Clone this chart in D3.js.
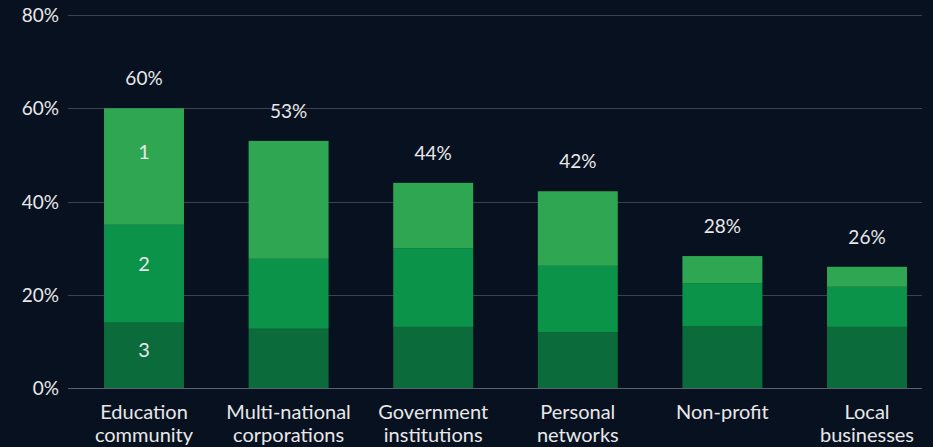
<!DOCTYPE html>
<html>
<head>
<meta charset="utf-8">
<script src="https://cdn.jsdelivr.net/npm/d3@7"></script>
<style>
  body { margin: 0; background: #07111f; }
  svg { display: block; }
  text { font-family: Lato, "Open Sans", sans-serif; fill: #e8e8ea; }
</style>
</head>
<body>
<script>
// Categories and the three stacked segments (bottom = 3, top = 1)
var categories = [
  ["Education", "community"],
  ["Multi-national", "corporations"],
  ["Government", "institutions"],
  ["Personal", "networks"],
  ["Non-profit"],
  ["Local", "businesses"]
];
var seg3 = [14, 12.7, 13.1, 12, 13.3, 13.1];
var seg2 = [21, 15, 16.9, 14.2, 9.2, 8.6];
var seg1 = [25, 25.3, 14, 16, 5.8, 4.3];
var totalLabels = ["60%", "53%", "44%", "42%", "28%", "26%"];
var segLabels = ["3", "2", "1"];
var yTicks = [0, 20, 40, 60, 80];
var colors = ["#0b6b3a", "#0b934a", "#2fa652"];

let w = 933;
let h = 447;

var svg = d3.select("body")
  .append("svg")
  .attr("width", w)
  .attr("height", h);

let yScale = d3.scaleLinear()
  .domain([0, 80])
  .range([388, 15]);

let xScale = d3.scaleBand()
  .domain(d3.range(categories.length))
  .range([71.7, 939.3])
  .paddingInner(0.447)
  .paddingOuter(0.2235);

// Grid lines
svg.append("g")
  .selectAll("line")
  .data(yTicks)
  .enter()
  .append("line")
  .attr("x1", 68)
  .attr("x2", 922)
  .attr("y1", d => Math.round(yScale(d)) + 0.5)
  .attr("y2", d => Math.round(yScale(d)) + 0.5)
  .attr("stroke", d => d === 0 ? "#59616e" : "#3a4352")
  .attr("stroke-width", 1.2);

// Y tick labels
svg.append("g")
  .selectAll("text")
  .data(yTicks)
  .enter()
  .append("text")
  .attr("x", 59)
  .attr("y", d => yScale(d) + 7)
  .attr("text-anchor", "end")
  .attr("font-size", "19px")
  .text(d => d + "%");

// Stacked bars
var rows = categories.map((c, i) => ({ i: i, s3: seg3[i], s2: seg2[i], s1: seg1[i] }));
var stack = d3.stack().keys(["s3", "s2", "s1"])(rows);

svg.append("g")
  .selectAll("g")
  .data(stack)
  .enter()
  .append("g")
  .attr("fill", (d, k) => colors[k])
  .selectAll("rect")
  .data(d => d)
  .enter()
  .append("rect")
  .attr("x", d => xScale(d.data.i))
  .attr("width", xScale.bandwidth())
  .attr("y", d => yScale(d[1]))
  .attr("height", d => yScale(d[0]) - yScale(d[1]));

// Segment numbers on the first bar
svg.append("g")
  .selectAll("text")
  .data(stack)
  .enter()
  .append("text")
  .attr("x", xScale(0) + xScale.bandwidth() / 2)
  .attr("y", (d, k) => (yScale(d[0][0]) + yScale(d[0][1])) / 2 + 2 - k * 5)
  .attr("text-anchor", "middle")
  .attr("font-size", "20px")
  .text((d, k) => segLabels[k]);

// Totals above bars
svg.append("g")
  .selectAll("text")
  .data(rows)
  .enter()
  .append("text")
  .attr("x", d => xScale(d.i) + xScale.bandwidth() / 2)
  .attr("y", d => yScale(d.s1 + d.s2 + d.s3) - 23)
  .attr("text-anchor", "middle")
  .attr("font-size", "19px")
  .text(d => totalLabels[d.i]);

// Category labels
var cat = svg.append("g")
  .selectAll("text")
  .data(categories)
  .enter()
  .append("text")
  .attr("x", (d, i) => xScale(i) + xScale.bandwidth() / 2)
  .attr("y", 419)
  .attr("text-anchor", "middle")
  .attr("font-size", "20px");

cat.selectAll("tspan")
  .data(d => d)
  .enter()
  .append("tspan")
  .attr("x", function() { return d3.select(this.parentNode).attr("x"); })
  .attr("dy", (d, j) => j === 0 ? 0 : 23)
  .text(d => d);
</script>
</body>
</html>
